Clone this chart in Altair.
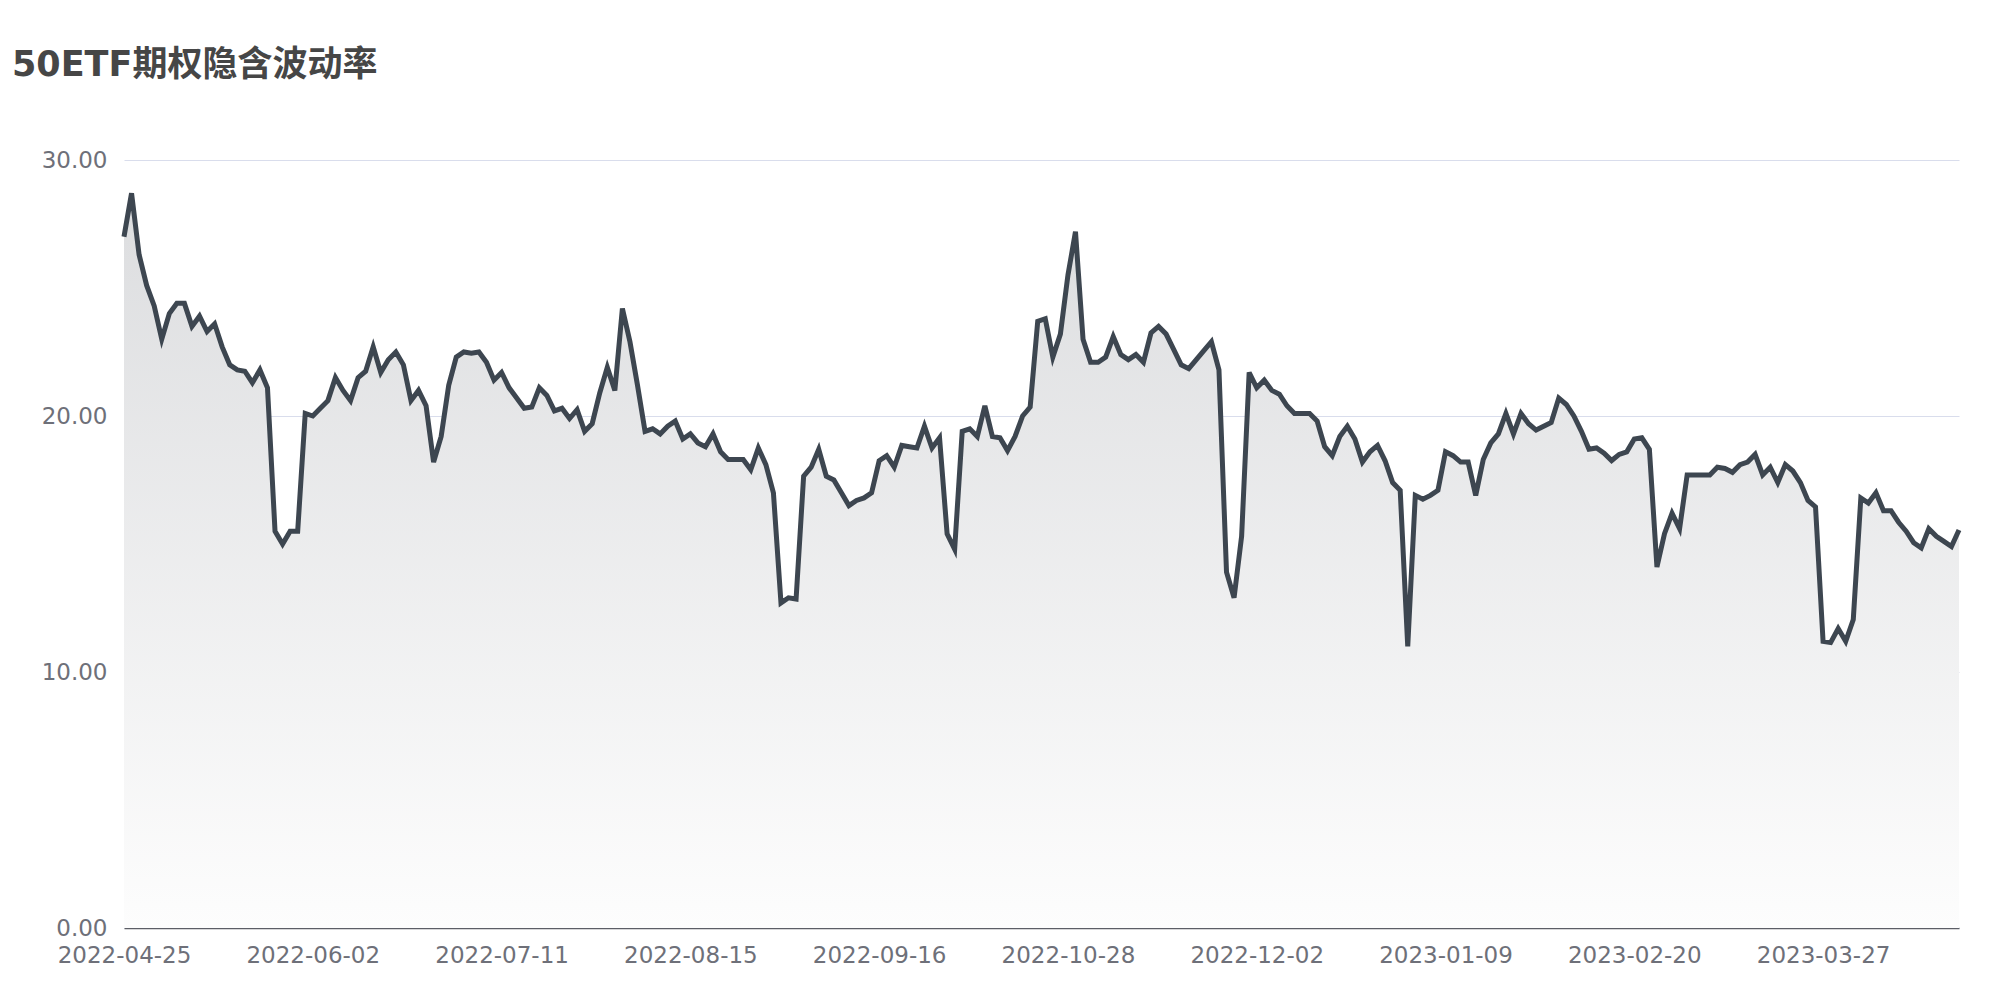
import json
import altair as alt
import pandas as pd

title_text = "50ETF期权隐含波动率"

tick_labels = ["2022-04-25", "2022-06-02", "2022-07-11", "2022-08-15", "2022-09-16",
               "2022-10-28", "2022-12-02", "2023-01-09", "2023-02-20", "2023-03-27"]

iv_values = [
    27.0, 28.7, 26.3, 25.1, 24.3, 23.0, 24.0, 24.4, 24.4, 23.5,
    23.9, 23.3, 23.6, 22.7, 22.0, 21.8, 21.75, 21.3, 21.8, 21.1,
    15.5, 15.0, 15.5, 15.5, 20.1, 20.0, 20.3, 20.6, 21.5, 21.0,
    20.6, 21.5, 21.75, 22.7, 21.7, 22.2, 22.5, 22.0, 20.6, 21.0,
    20.4, 18.2, 19.2, 21.2, 22.3, 22.5, 22.45, 22.5, 22.1, 21.4,
    21.7, 21.1, 20.7, 20.3, 20.35, 21.1, 20.8, 20.2, 20.3, 19.9,
    20.25, 19.4, 19.7, 20.9, 21.9, 21.0, 24.2, 22.9, 21.2, 19.4,
    19.5, 19.3, 19.6, 19.8, 19.1, 19.3, 18.95, 18.8, 19.3, 18.6,
    18.3, 18.3, 18.3, 17.9, 18.75, 18.1, 17.0, 12.7, 12.9, 12.85,
    17.65, 18.0, 18.7, 17.65, 17.5, 17.0, 16.5, 16.7, 16.8, 17.0,
    18.25, 18.45, 18.0, 18.85, 18.8, 18.75, 19.6, 18.75, 19.15, 15.4,
    14.8, 19.4, 19.5, 19.2, 20.4, 19.2, 19.15, 18.65, 19.2, 20.0,
    20.35, 23.7, 23.8, 22.3, 23.2, 25.5, 27.2, 23.0, 22.1, 22.1,
    22.3, 23.1, 22.4, 22.2, 22.4, 22.1, 23.25, 23.5, 23.2, 22.6,
    22.0, 21.85, 22.2, 22.55, 22.9, 21.8, 13.9, 12.9, 15.3, 21.7,
    21.1, 21.4, 21.0, 20.85, 20.4, 20.1, 20.1, 20.1, 19.8, 18.8,
    18.45, 19.2, 19.6, 19.1, 18.2, 18.6, 18.85, 18.25, 17.4, 17.1,
    11.0, 16.9, 16.75, 16.9, 17.1, 18.6, 18.45, 18.2, 18.2, 16.9,
    18.3, 18.95, 19.3, 20.1, 19.3, 20.1, 19.7, 19.45, 19.6, 19.75,
    20.7, 20.45, 20.0, 19.4, 18.7, 18.75, 18.55, 18.26, 18.5, 18.6,
    19.1, 19.15, 18.7, 14.1, 15.4, 16.2, 15.6, 17.7, 17.7, 17.7,
    17.7, 18.0, 17.95, 17.8, 18.1, 18.2, 18.5, 17.7, 18.0, 17.4,
    18.1, 17.85, 17.4, 16.7, 16.45, 11.2, 11.15, 11.7, 11.2, 12.05,
    16.8, 16.6, 17.0, 16.3, 16.3, 15.85, 15.5, 15.05, 14.85, 15.6,
    15.3, 15.1, 14.9, 15.55,
]

y_ticks = [0, 10, 20, 30]
label_step = 25

df = pd.DataFrame({"i": list(range(len(iv_values))), "v": iv_values})

label_expr = json.dumps(tick_labels) + "[round(datum.value / %d)]" % label_step

FONT = "DejaVu Sans"
LABEL_COLOR = "#6e7079"

x_enc = alt.X(
    "i:Q",
    scale=alt.Scale(domain=[0, len(iv_values) - 1], nice=False, zero=False),
    axis=alt.Axis(
        values=list(range(0, len(iv_values), label_step)),
        labelExpr=label_expr,
        title=None,
        grid=False,
        ticks=False,
        domainColor="#5c5e66",
        domainWidth=1.5,
        labelColor=LABEL_COLOR,
        labelFont=FONT,
        labelFontSize=23,
        labelPadding=16,
        labelFlush=False,
        labelOverlap=False,
        labelAngle=0,
    ),
)

y_enc = alt.Y(
    "v:Q",
    scale=alt.Scale(domain=[0, 30], nice=False),
    axis=alt.Axis(
        values=y_ticks,
        format=".2f",
        title=None,
        domain=False,
        ticks=False,
        grid=True,
        gridColor="#d9ddec",
        gridWidth=1,
        labelColor=LABEL_COLOR,
        labelFont=FONT,
        labelFontSize=23,
        labelPadding=17,
    ),
)

area = alt.Chart(df).mark_area(
    color=alt.Gradient(
        gradient="linear",
        stops=[
            alt.GradientStop(color="#dcdddf", offset=0),
            alt.GradientStop(color="#fdfdfd", offset=1),
        ],
        x1=1, x2=1, y1=0, y2=1,
    )
).encode(x=x_enc, y=y_enc)

line = alt.Chart(df).mark_line(color="#3d4650", strokeWidth=5).encode(x=x_enc, y=y_enc)

chart = (
    alt.layer(area, line)
    .properties(
        width=1835,
        height=768,
        autosize="none",
        padding={"left": 116, "top": 152, "right": 30, "bottom": 60},
        title=alt.TitleParams(
            text=title_text,
            anchor="start",
            frame="group",
            dx=-112,
            offset=38,
            baseline="alphabetic",
            font="DejaVu Sans, Noto Sans CJK SC",
            fontSize=35,
            fontWeight="bold",
            color="#464646",
        ),
    )
    .configure_view(stroke=None)
)

chart.save("out.html", embed_options={"renderer": "svg", "actions": False})
